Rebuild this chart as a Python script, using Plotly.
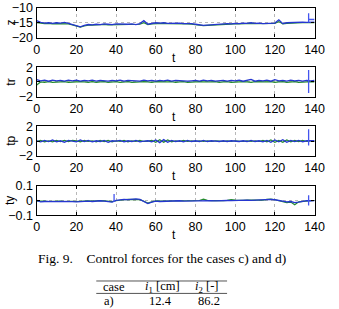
import plotly.graph_objects as go

W, H = 339, 309

# ---------------- data ----------------
t = list(range(0, 141, 2))

z_blue = [-14.3, -14.9, -15.1, -15.0, -15.2, -15.0, -15.1, -14.9, -15.2, -15.6,
          -16.0, -16.4, -15.9, -15.6, -15.7, -15.5, -15.6, -15.4, -15.5, -15.6,
          -15.4, -15.5, -15.6, -15.5, -15.4, -15.6, -15.3, -14.3, -15.5, -15.2,
          -15.0, -15.1, -15.0, -15.2, -15.1, -15.0, -15.1, -15.3, -15.2, -15.3,
          -15.5, -15.8, -15.9, -15.8, -15.7, -15.5, -15.4, -15.5, -15.3, -15.4,
          -15.2, -15.3, -15.1, -15.2, -15.0, -15.2, -15.1, -15.3, -15.2, -15.0,
          -15.1, -14.0, -15.3, -15.0, -14.9, -15.0, -14.9, -14.8, -14.9, -14.8,
          -14.8]
z_green = [-15.0, -15.2, -15.3, -15.2, -15.4, -15.3, -15.3, -15.2, -15.4, -15.7,
           -16.1, -16.5, -16.1, -15.8, -15.8, -15.7, -15.7, -15.6, -15.7, -15.7,
           -15.6, -15.7, -15.7, -15.6, -15.6, -15.7, -15.5, -15.0, -15.6, -15.4,
           -15.3, -15.3, -15.2, -15.3, -15.3, -15.2, -15.3, -15.4, -15.4, -15.5,
           -15.7, -15.9, -16.0, -15.9, -15.8, -15.7, -15.6, -15.6, -15.5, -15.5,
           -15.4, -15.4, -15.3, -15.3, -15.2, -15.3, -15.3, -15.4, -15.3, -15.2,
           -15.2, -14.6, -15.4, -15.2, -15.1, -15.1, -15.1, -15.0, -15.0, -15.0,
           -15.0]
z_spike_t = [137, 137, 137, 140]
z_spike_v = [-14.9, -11.8, -13.9, -13.9]

tr_blue = [0.30, 0.15, 0.25, 0.10, 0.25, 0.15, 0.20, 0.10, 0.25, 0.15,
           0.25, 0.10, 0.20, 0.15, 0.25, 0.10, 0.20, 0.15, 0.10, 0.20,
           0.15, 0.25, 0.10, 0.20, 0.15, 0.20, 0.10, 0.25, 0.15, 0.20,
           0.10, 0.20, 0.15, 0.25, 0.10, 0.20, 0.15, 0.20, 0.10, 0.15,
           0.20, 0.10, 0.25, 0.15, 0.20, 0.10, 0.15, 0.20, 0.10, 0.20,
           0.15, 0.25, 0.10, 0.20, 0.35, 0.10, 0.20, 0.15, 0.25, 0.10,
           0.30, 0.15, 0.20, 0.10, 0.25, 0.15, 0.20, 0.10, 0.20, 0.15,
           0.20]
tr_green = [-0.40, 0.00, -0.05, 0.05, -0.05, 0.00, -0.05, 0.05, -0.05, 0.00,
            -0.05, 0.05, 0.00, -0.05, 0.05, -0.05, 0.00, 0.05, -0.05, 0.00,
            0.05, -0.05, 0.00, 0.05, -0.05, 0.00, -0.05, 0.05, 0.00, -0.05,
            0.05, 0.00, -0.05, 0.00, 0.05, -0.05, 0.00, 0.05, -0.05, 0.00,
            -0.05, 0.05, 0.00, -0.05, 0.00, 0.05, -0.05, 0.00, 0.05, -0.05,
            0.00, -0.05, 0.05, 0.00, -0.05, 0.05, 0.00, -0.05, 0.00, 0.05,
            -0.05, 0.00, 0.05, -0.05, 0.00, 0.05, -0.05, 0.00, -0.05, 0.05,
            0.00]
tr_spike_t = [137, 137]
tr_spike_v = [1.6, -1.5]

tp_blue = [0.05, -0.10, 0.10, -0.05, 0.15, -0.10, 0.05, -0.15, 0.10, 0.00,
           -0.10, 0.15, -0.05, 0.10, -0.10, 0.05, -0.05, 0.10, -0.15, 0.05,
           0.00, 0.10, -0.10, 0.05, -0.05, 0.10, -0.10, 0.00, 0.05, -0.10,
           0.15, -0.20, 0.20, -0.15, 0.10, -0.05, 0.05, -0.10, 0.10, -0.05,
           0.05, -0.05, 0.10, -0.05, 0.05, 0.00, -0.05, 0.05, -0.05, 0.05,
           0.00, -0.05, 0.05, -0.05, 0.10, -0.05, 0.05, -0.10, 0.10, -0.15,
           0.15, -0.10, 0.20, -0.15, 0.10, -0.05, 0.10, -0.10, 0.05, 0.00,
           0.05]
tp_green = [-0.05, 0.10, -0.10, 0.05, -0.10, 0.10, -0.05, 0.10, -0.05, 0.10,
            0.05, -0.10, 0.10, -0.05, 0.05, -0.10, 0.10, -0.05, 0.10, -0.10,
            0.05, -0.05, 0.10, -0.10, 0.05, -0.05, 0.10, -0.05, 0.00, 0.10,
            -0.15, 0.20, -0.15, 0.15, -0.10, 0.05, -0.05, 0.10, -0.05, 0.05,
            -0.05, 0.05, -0.05, 0.05, -0.05, 0.05, 0.00, -0.05, 0.05, -0.05,
            0.05, 0.00, -0.05, 0.05, -0.05, 0.05, -0.05, 0.10, -0.10, 0.15,
            -0.15, 0.10, -0.15, 0.15, -0.10, 0.10, -0.05, 0.10, -0.05, 0.05,
            0.00]
tp_spike_t = [137, 137]
tp_spike_v = [1.6, -0.6]

ty_blue = [0.000, -0.010, -0.008, -0.010, -0.007, -0.009, -0.008, -0.010, -0.007, -0.009,
           -0.010, -0.008, -0.009, -0.006, -0.008, -0.005, -0.003, -0.006, -0.010, -0.012,
           0.000, 0.004, 0.006, 0.005, 0.008, 0.010, 0.006, -0.008, -0.022, -0.012,
           -0.005, -0.008, -0.006, -0.004, -0.007, -0.005, -0.003, -0.006, -0.005, -0.004,
           -0.004, -0.002, -0.005, -0.003, -0.002, -0.004, -0.002, -0.003, -0.001, -0.002,
           0.000, -0.002, -0.001, 0.001, 0.000, 0.002, 0.003, 0.001, 0.004, 0.006,
           0.004, -0.002, -0.005, -0.010, -0.008, -0.015, -0.012, -0.005, -0.002, -0.003,
           -0.002]
ty_green = [-0.005, -0.008, -0.006, -0.008, -0.006, -0.007, -0.006, -0.008, -0.006, -0.007,
            -0.008, -0.006, -0.007, -0.004, -0.006, -0.003, -0.002, -0.004, -0.007, -0.009,
            -0.003, 0.002, 0.004, 0.006, 0.007, 0.009, 0.005, -0.006, -0.018, -0.010,
            -0.004, -0.006, -0.005, -0.003, -0.005, -0.004, -0.002, -0.004, -0.003, -0.003,
            -0.003, -0.001, 0.008, 0.000, -0.002, -0.003, -0.001, -0.002, 0.000, 0.005,
            0.002, -0.001, 0.000, 0.002, 0.001, 0.003, 0.004, 0.002, 0.006, 0.008,
            0.004, -0.004, -0.010, -0.015, -0.012, -0.030, -0.010, -0.006, -0.003, -0.002,
            -0.001]
ty_spike_t = [39, 39, 39, None, 137, 137]
ty_spike_v = [-0.012, 0.042, 0.000, None, 0.035, -0.035]

panels = [
    ("z", z_blue, z_green, z_spike_t, z_spike_v, [-20, -10], [-20, -15, -10], ["−20", "−15", "−10"]),
    ("tr", tr_blue, tr_green, tr_spike_t, tr_spike_v, [-2, 2], [-2, 0, 2], ["−2", "0", "2"]),
    ("tp", tp_blue, tp_green, tp_spike_t, tp_spike_v, [-2, 2], [-2, 0, 2], ["−2", "0", "2"]),
    ("ty", ty_blue, ty_green, ty_spike_t, ty_spike_v, [-0.1, 0.1], [-0.1, 0, 0.1], ["−0.1", "0", "0.1"]),
]

x_ticks = [0, 20, 40, 60, 80, 100, 120, 140]
caption = "Fig. 9.    Control forces for the cases c) and d)"
table_header = ["case", "<i>i</i><sub>1</sub> [cm]", "<i>i</i><sub>2</sub> [-]"]
table_row = ["a)", "12.4", "86.2"]

# ---------------- layout helpers ----------------
BLUE = "#2536d0"
GREEN = "#238a2e"
SANS = "Liberation Sans, Arial, sans-serif"
SERIF = "Liberation Serif, Times New Roman, serif"

def py(px):
    return 1 - px / H

def pxx(px):
    return px / W

tops = [1, 63, 125, 187]
bots = [32, 94, 156, 218]
x0, x1 = 35, 324

fig = go.Figure()
annotations = []
shapes = []

for i, (name, vb, vg, st, sv, yr, ytv, ytt) in enumerate(panels):
    k = "" if i == 0 else str(i + 1)
    xa, ya = "x" + k, "y" + k
    fig.add_trace(go.Scatter(x=t, y=vg, mode="lines", line=dict(color=GREEN, width=1.2),
                             xaxis=xa, yaxis=ya, showlegend=False))
    fig.add_trace(go.Scatter(x=t, y=vb, mode="lines", line=dict(color=BLUE, width=1.3),
                             xaxis=xa, yaxis=ya, showlegend=False))
    fig.add_trace(go.Scatter(x=st, y=sv, mode="lines", line=dict(color="#4455ee", width=1.3),
                             xaxis=xa, yaxis=ya, showlegend=False, connectgaps=False))
    axcommon = dict(showline=True, linecolor="black", linewidth=1.4, mirror="ticks",
                    ticks="inside", ticklen=3, tickcolor="black",
                    showgrid=True, gridcolor="#b8b8b8", griddash="dot", gridwidth=1,
                    zeroline=False, tickfont=dict(family=SANS, size=12.5, color="black"))
    fig.update_layout(**{
        "xaxis" + k: dict(domain=[pxx(x0), pxx(x1)], range=[0, 140], tickvals=x_ticks,
                          anchor=ya, **axcommon),
        "yaxis" + k: dict(domain=[py(bots[i]), py(tops[i])], range=yr, tickvals=ytv,
                          ticktext=ytt, anchor=xa, **axcommon),
    })
    annotations.append(dict(text=name, x=pxx(8), y=py((tops[i] + bots[i]) / 2),
                            xref="paper", yref="paper", showarrow=False, textangle=-90,
                            font=dict(family=SANS, size=12, color="black"),
                            xanchor="center", yanchor="middle"))
    annotations.append(dict(text="t", x=pxx(178), y=py(bots[i] + 21),
                            xref="paper", yref="paper", showarrow=False,
                            font=dict(family=SANS, size=12, color="black"),
                            xanchor="center", yanchor="middle"))

annotations.append(dict(text=caption, x=pxx(165), y=py(263), xref="paper", yref="paper",
                        showarrow=False, font=dict(family=SERIF, size=13.5, color="black"),
                        xanchor="center", yanchor="middle"))
for txt, cx in zip(table_header, [115, 166, 212]):
    annotations.append(dict(text=txt, x=pxx(cx), y=py(293.5), xref="paper", yref="paper",
                            showarrow=False, font=dict(family=SERIF, size=12.5, color="black"),
                            xanchor="center", yanchor="middle"))
for txt, cx in zip(table_row, [110, 164, 214]):
    annotations.append(dict(text=txt, x=pxx(cx), y=py(307.5), xref="paper", yref="paper",
                            showarrow=False, font=dict(family=SERIF, size=12.5, color="black"),
                            xanchor="center", yanchor="middle"))
for ly in [287, 300]:
    shapes.append(dict(type="line", xref="paper", yref="paper", x0=pxx(97), x1=pxx(233),
                       y0=py(ly), y1=py(ly), line=dict(color="#555555", width=1)))

fig.update_layout(width=W, height=H, margin=dict(l=0, r=0, t=0, b=0),
                  paper_bgcolor="white", plot_bgcolor="white",
                  annotations=annotations, shapes=shapes, showlegend=False)

fig.write_html("out.html")
